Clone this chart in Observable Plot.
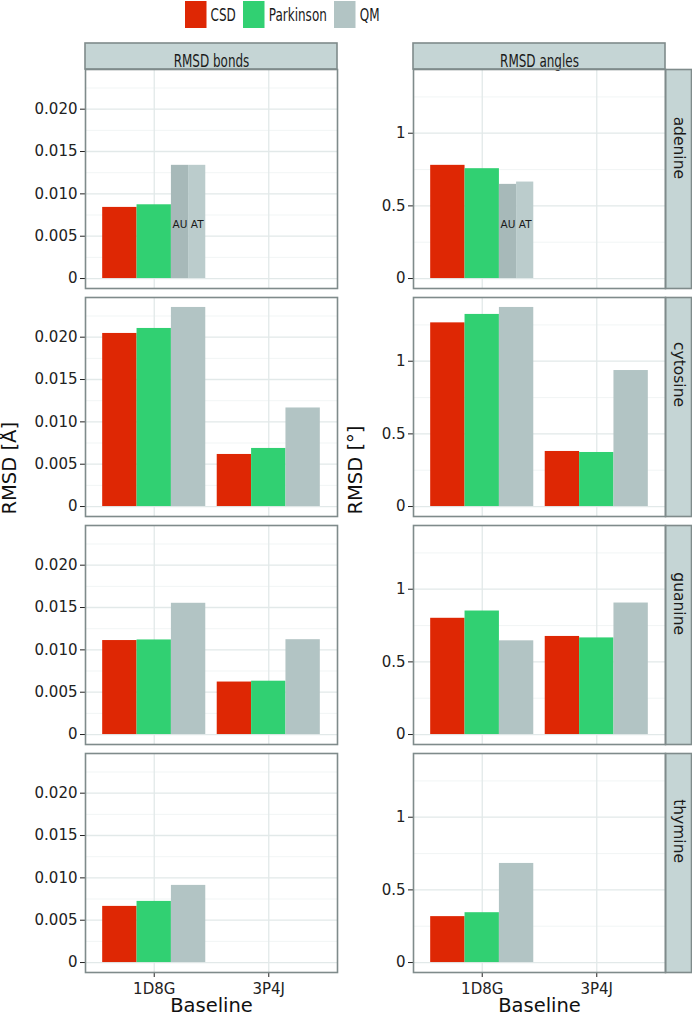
<!DOCTYPE html>
<html>
<head>
<meta charset="utf-8">
<script src="https://cdn.jsdelivr.net/npm/d3@7"></script>
<script src="https://cdn.jsdelivr.net/npm/@observablehq/plot@0.6"></script>
<style>
html, body { margin: 0; padding: 0; background: #fff; }
body { font-family: "DejaVu Sans", sans-serif; }
#chart { position: relative; width: 692px; height: 1020px; overflow: hidden; }
#legend { position: absolute; left: 185px; top: 1px; }
.col { position: absolute; top: 0; }
.lg-swatches { font-family: "DejaVu Sans", sans-serif !important; font-size: 12px !important; color: #1a1a1a; margin: 0 !important; min-height: 0 !important; }
.lg-swatch { margin-right: 7.5px !important; }
.lg-swatch > svg { margin-right: 4px !important; }
.lg-label { display: inline-block; transform: scaleY(1.48); }
</style>
</head>
<body>
<div id="chart"><div id="legend"></div></div>
<script>
// ---------- data ----------
const bases = ["adenine", "cytosine", "guanine", "thymine"];
const baselines = ["1D8G", "3P4J"];
const methods = ["CSD", "Parkinson", "QM"];
const qmPairs = ["AU", "AT"];
const methodColors = ["#DE2704", "#31D072", "#B2C4C4"];
const pairColors = ["#A7B9B9", "#BBCCCC"];

// RMSD bonds [Å]: per base (adenine, cytosine, guanine, thymine) -> [1D8G, 3P4J]
const bondsCSD       = [[0.0084, null], [0.02044, 0.00615], [0.0111, 0.0062], [0.00663, null]];
const bondsParkinson = [[0.00871, null], [0.02103, 0.00686], [0.01117, 0.0063], [0.00722, null]];
const bondsQM        = [[null, null], [0.02351, 0.01164], [0.0155, 0.0112], [0.00911, null]];
const bondsAdenineQM = [0.01337, 0.01337]; // AU, AT at 1D8G

// RMSD angles [°]
const anglesCSD       = [[0.779, null], [1.264, 0.379], [0.80, 0.675], [0.316, null]];
const anglesParkinson = [[0.756, null], [1.322, 0.372], [0.85, 0.665], [0.343, null]];
const anglesQM        = [[null, null], [1.370, 0.936], [0.645, 0.905], [0.682, null]];
const anglesAdenineQM = [0.648, 0.664]; // AU, AT at 1D8G

const bondTicks = [0, 0.005, 0.010, 0.015, 0.020];
const bondTickLabels = ["0", "0.005", "0.010", "0.015", "0.020"];
const angleTicks = [0, 0.5, 1];
const angleTickLabels = ["0", "0.5", "1"];

// ---------- layout / style ----------
const FONT = "DejaVu Sans";
const PANEL_W = 252, PANEL_H = 219, GAP = 9, STRIP = 26;
const MT = 69, MB = 48, H = 1020;
const GROUP = 0.9;
const stripFill = "#C5D5D5", borderColor = "#7F8B8B";
const majorGrid = "#E2E9E9", minorGrid = "#EEF2F2";

function buildRows(series, adenineQM) {
  const out = [];
  bases.forEach((base, bi) => {
    baselines.forEach((bl, li) => {
      methods.forEach((m, mi) => {
        const v = series[mi][bi][li];
        if (v == null) return;
        const x1 = li + 1 - GROUP / 2 + mi * GROUP / methods.length;
        out.push({base, baseline: bl, method: m, key: m, value: v, x1, x2: x1 + GROUP / methods.length});
      });
    });
  });
  qmPairs.forEach((p, pi) => {
    const w = GROUP / methods.length / qmPairs.length;
    const x1 = 1 - GROUP / 2 + 2 * GROUP / methods.length + pi * w;
    out.push({base: bases[0], baseline: baselines[0], method: "QM", pair: p, key: p, value: adenineQM[pi], x1, x2: x1 + w});
  });
  return out;
}

function column({rows, ticks, tickLabels, title, yTitle, titleDx, strips, marginLeft, marginRight}) {
  const vmax = d3.max(rows, d => d.value);
  const yDomain = [-0.05 * vmax, 1.05 * vmax];
  const step = ticks[1] - ticks[0];
  const minor = d3.pairs(ticks).map(([a, b]) => (a + b) / 2);
  if (ticks[ticks.length - 1] + step / 2 < yDomain[1]) minor.push(ticks[ticks.length - 1] + step / 2);
  const width = marginLeft + PANEL_W + marginRight;
  const marks = [
    Plot.rect([bases[0]], {fy: d => d, fill: stripFill, stroke: borderColor, strokeWidth: 1.6, insetTop: -STRIP, insetBottom: PANEL_H}),
    Plot.text([title], {fy: () => bases[0], frameAnchor: "top", dy: -STRIP / 2, fontSize: 12, fill: "#1a1a1a"}),
    Plot.ruleY(minor, {stroke: minorGrid, strokeWidth: 0.8}),
    Plot.ruleY(ticks, {stroke: majorGrid, strokeWidth: 1.3}),
    Plot.ruleX(baselines.map((_, i) => i + 1), {stroke: majorGrid, strokeWidth: 1.3}),
    Plot.rect(rows, {x1: "x1", x2: "x2", y1: 0, y2: "value", fy: "base", fill: "key", inset: 0}),
    Plot.text(rows.filter(d => d.pair), {x: d => (d.x1 + d.x2) / 2, fy: "base", text: "pair", frameAnchor: "bottom", dy: -61, fontSize: 10.5, fill: "#1a1a1a"}),
    Plot.text([yTitle], {fy: () => bases[1], frameAnchor: "bottom-left", dx: titleDx, dy: -2, rotate: -90, fontSize: 19.5, fill: "#111"}),
    Plot.text(["Baseline"], {fy: () => bases[bases.length - 1], frameAnchor: "bottom", dy: 39.3, fontSize: 19.5, fill: "#111"}),
  ];
  if (strips) {
    marks.push(
      Plot.frame({fill: stripFill, stroke: borderColor, strokeWidth: 1.6, insetLeft: PANEL_W, insetRight: -STRIP}),
      Plot.text(bases, {fy: d => d, text: d => d, frameAnchor: "right", dx: STRIP / 2, rotate: 90, fontSize: 15.5, fill: "#1a1a1a"})
    );
  }
  marks.push(Plot.frame({stroke: borderColor, strokeWidth: 1.6}));
  return Plot.plot({
    width, height: H,
    marginTop: MT, marginBottom: MB, marginLeft, marginRight,
    style: {fontFamily: FONT, fontSize: "15px", color: "#222", background: "transparent"},
    fy: {domain: bases, paddingInner: GAP / (PANEL_H + GAP), paddingOuter: 0, round: false, axis: null, label: null},
    x: {type: "linear", domain: [0.4, baselines.length + 0.6], ticks: baselines.map((_, i) => i + 1), tickFormat: d => baselines[d - 1], tickSize: 5, tickPadding: 6, label: null},
    y: {domain: yDomain, ticks, tickFormat: d => tickLabels[ticks.indexOf(d)], tickSize: 5, tickPadding: 3, label: null},
    color: {domain: [...methods, ...qmPairs], range: [...methodColors, ...pairColors]},
    marks
  });
}

// vertically stretch the column-strip titles about their centres (the reference's strip text is tall and narrow)
function stretchTexts(svg, labels, s) {
  svg.querySelectorAll("text").forEach(t => {
    if (!labels.includes(t.textContent)) return;
    const bb = t.getBBox();
    const tl = t.transform.baseVal.consolidate();
    const m = tl ? tl.matrix : svg.createSVGMatrix();
    const lx = bb.x + bb.width / 2, ly = bb.y + bb.height / 2;
    const cx = m.a * lx + m.c * ly + m.e, cy = m.b * lx + m.d * ly + m.f;
    const T = t.getAttribute("transform") || "";
    t.setAttribute("transform", `translate(${cx},${cy}) scale(1,${s}) translate(${-cx},${-cy}) ${T}`);
  });
}

const chart = document.getElementById("chart");

const left = column({
  rows: buildRows([bondsCSD, bondsParkinson, bondsQM], bondsAdenineQM),
  ticks: bondTicks, tickLabels: bondTickLabels,
  title: "RMSD bonds", yTitle: "RMSD [Å]", titleDx: -70, strips: false,
  marginLeft: 85, marginRight: 3
});
left.classList.add("col"); left.style.left = "0px";
chart.appendChild(left);
stretchTexts(left, ["RMSD bonds"], 1.4);

const right = column({
  rows: buildRows([anglesCSD, anglesParkinson, anglesQM], anglesAdenineQM),
  ticks: angleTicks, tickLabels: angleTickLabels,
  title: "RMSD angles", yTitle: "RMSD [°]", titleDx: -52, strips: true,
  marginLeft: 73, marginRight: 27
});
right.classList.add("col"); right.style.left = "340px";
chart.appendChild(right);
stretchTexts(right, ["RMSD angles"], 1.4);

const legend = Plot.legend({
  color: {domain: methods, range: methodColors},
  legend: "swatches", swatchWidth: 21.5, swatchHeight: 27, className: "lg"
});
legend.querySelectorAll(".lg-swatch").forEach(sw => {
  [...sw.childNodes].forEach(n => {
    if (n.nodeType === 3 && n.textContent.trim()) {
      const span = document.createElement("span");
      span.className = "lg-label";
      span.textContent = n.textContent;
      sw.replaceChild(span, n);
    }
  });
});
document.getElementById("legend").appendChild(legend);
</script>
</body>
</html>
